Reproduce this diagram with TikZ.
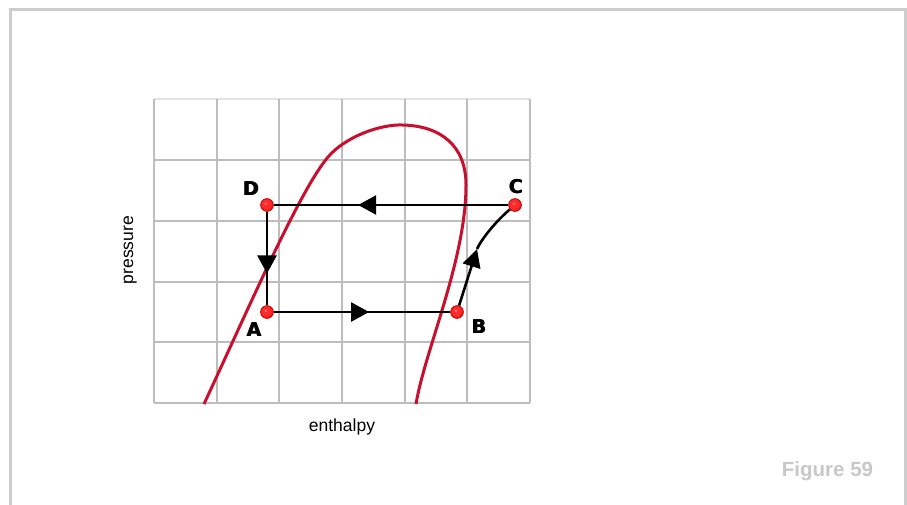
\documentclass[tikz,border=0pt]{standalone}
\usepackage{fontspec}
\setmainfont{Liberation Sans}
\newfontfamily\heavyfont{DejaVu Sans}
\usetikzlibrary{arrows.meta,decorations.markings}
\definecolor{curvered}{HTML}{C8102E}
\definecolor{gridgray}{HTML}{BDBDBD}
\definecolor{faintgray}{HTML}{E2E2E2}
\definecolor{framegray}{HTML}{CCCCCC}
\definecolor{figgray}{HTML}{C8C8C8}
\definecolor{ptred}{HTML}{FF2A2A}
\definecolor{pthi}{HTML}{FFC8C8}
\definecolor{ptedge}{HTML}{D01010}
\pgfdeclareradialshading{redball}{\pgfpoint{-7bp}{7bp}}{%
  color(0bp)=(pthi); color(5bp)=(ptred); color(18bp)=(ptred); color(30bp)=(ptedge); color(50bp)=(ptedge)}
\newcommand{\heavytext}[1]{\rlap{#1}\hspace{0.8pt}#1}
\tikzset{
  gridline/.style={gridgray, line width=2pt},
  frameline/.style={framegray, line width=3pt},
  satcurve/.style={curvered, line width=3pt},
  flowline/.style={black, line width=2.6pt},
  midarrow/.style={postaction={decorate}, decoration={markings,
      mark=at position #1 with {\arrow{Triangle[length=18pt,width=19pt]}}}},
  statept/.style={circle, minimum size=12.5pt, inner sep=0pt, shading=redball,
      draw=ptedge, line width=0.8pt},
  ptlabel/.style={font=\heavyfont\bfseries\fontsize{19}{22}\selectfont, inner sep=0pt},
  axislabel/.style={font=\fontsize{17.5}{20}\selectfont, inner sep=0pt},
  figlabel/.style={font=\bfseries\fontsize{20.5}{24}\selectfont, text=figgray, inner sep=0pt}
}
\begin{document}
\begin{tikzpicture}[x=1pt,y=-1pt]
\useasboundingbox (0,0) rectangle (907,504);
\fill[white] (0,0) rectangle (907,504);
% outer frame
\draw[frameline] (10.5,506) -- (10.5,9.5) -- (905.5,9.5) -- (905.5,506);
% grid
\draw[faintgray, line width=1.5pt] (154,99) -- (530,99);
\foreach \y in {160,221,282,342,403} \draw[gridline] (154,\y) -- (530,\y);
\foreach \x in {154,216.7,279.3,342,404.7,467.3,530} \draw[gridline] (\x,99) -- (\x,403);
% saturation dome
\draw[satcurve] (204,404) .. controls (250,305) and (300,190) .. (328,157)
  .. controls (345,137) and (380,124) .. (403,125)
  .. controls (440,126) and (466,145) .. (466,185)
  .. controls (466,260) and (425,350) .. (416,404);
% state points
\node[statept] (D) at (267,205) {};
\node[statept] (C) at (515,205) {};
\node[statept] (A) at (267,312) {};
\node[statept] (B) at (457,312) {};
\coordinate (bctip) at (477,249);
% cycle
\draw[flowline, midarrow=0.66] (D) -- (A);
\draw[flowline, midarrow=0.54] (A) -- (B);
\draw[flowline, midarrow=0.64] (C) -- (D);
\draw[flowline, -{Triangle[length=18pt,width=18pt]}] (B) -- (bctip);
\draw[flowline] (bctip) .. controls (481,240) and (495,222) .. (C);
% redraw points on top
\node[statept] at (D) {};
\node[statept] at (C) {};
\node[statept] at (A) {};
\node[statept] at (B) {};
% labels
\node[ptlabel] (lD) at (251,189) {\heavytext{D}};
\node[ptlabel] (lC) at (516,187) {\heavytext{C}};
\node[ptlabel] (lA) at (254,330) {\heavytext{A}};
\node[ptlabel] (lB) at (479,327) {\heavytext{B}};
\node[axislabel, anchor=base] (xl) at (342,431) {enthalpy};
\node[axislabel, anchor=base, rotate=90] (yl) at (133,250) {pressure};
\node[figlabel, anchor=base] (fig) at (827.5,476) {Figure 59};
\end{tikzpicture}
\end{document}
